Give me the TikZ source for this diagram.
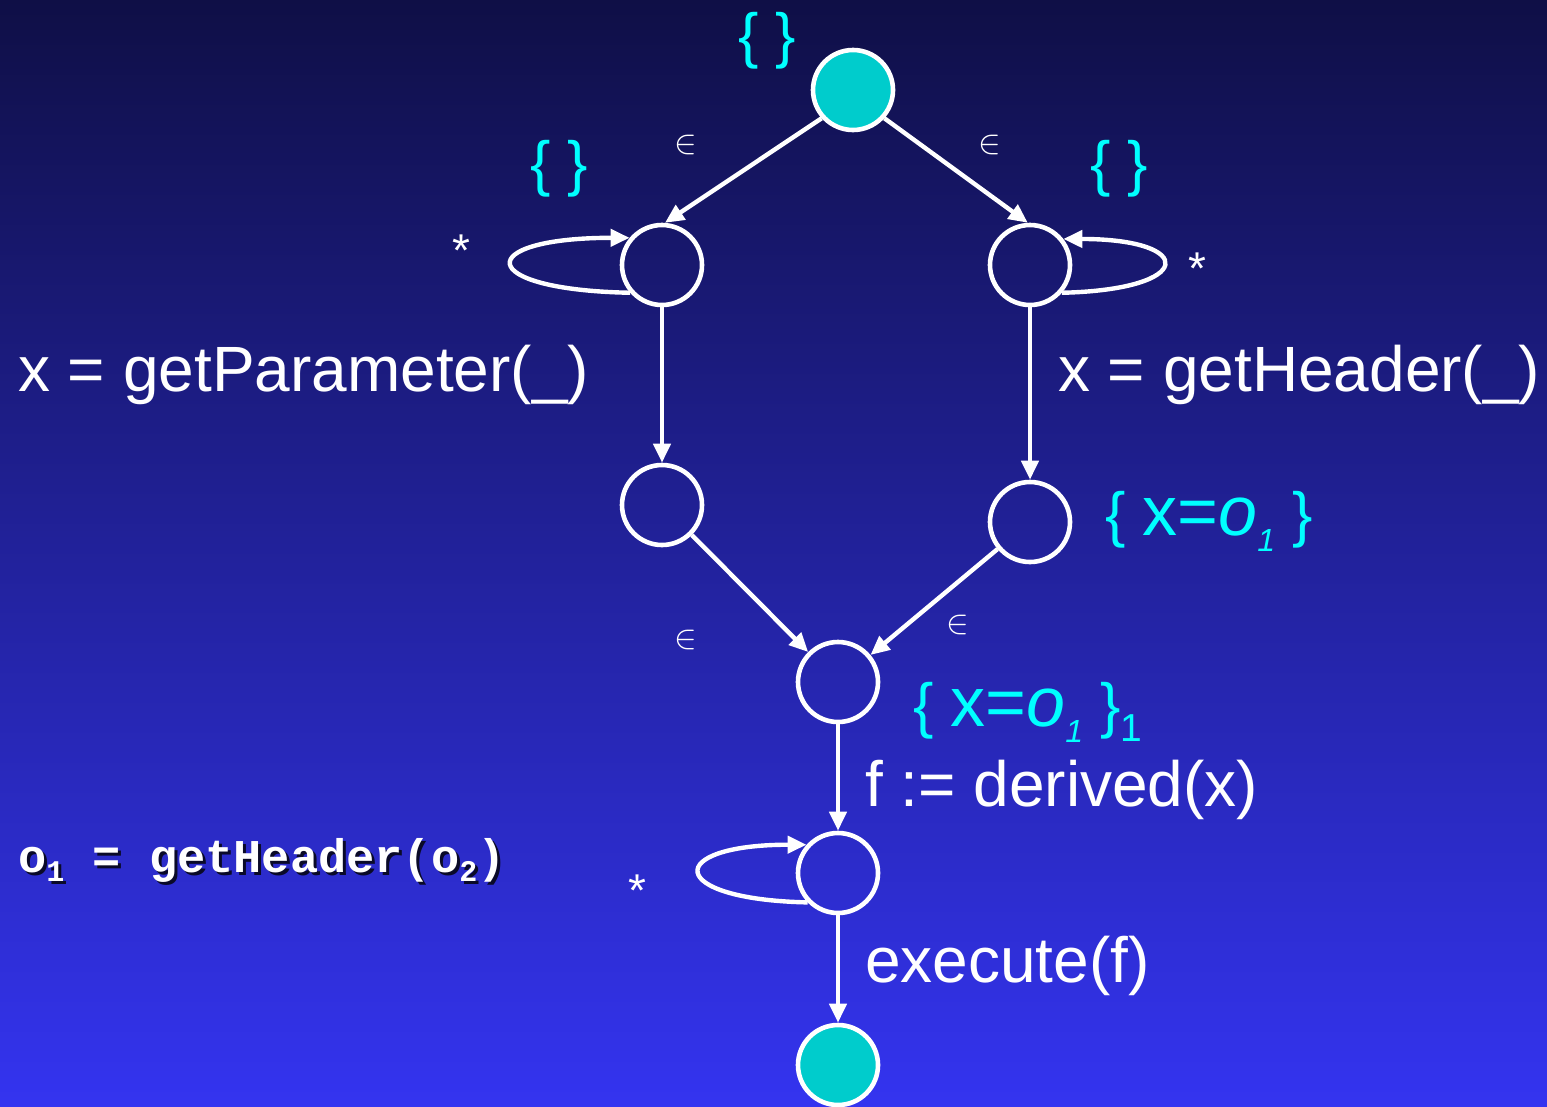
\documentclass[tikz,border=0pt]{standalone}
\usepackage{fontspec}
\usepackage{graphicx}
\setmainfont{Liberation Sans}
\setmonofont{Liberation Mono}
\usetikzlibrary{arrows.meta}
\definecolor{bgtop}{RGB}{15,15,70}
\definecolor{bgmid}{RGB}{38,38,185}
\definecolor{bgbot}{RGB}{52,52,240}
\definecolor{fillcyan}{RGB}{0,204,204}
\definecolor{labcyan}{RGB}{0,255,255}
\definecolor{shadowcol}{RGB}{10,10,40}
\newcommand{\lowsub}[3]{\raisebox{-#1pt}{\fontsize{#2}{#2}\selectfont #3}}
\newcommand{\bigx}[1]{{\fontsize{70}{70}\selectfont #1}}
\begin{document}
\begin{tikzpicture}[x=1pt,y=-1pt,
  state/.style={circle,draw=white,line width=4.6pt,minimum size=80pt,inner sep=0pt},
  startend/.style={state,fill=fillcyan},
  edge/.style={draw=white,line width=4.4pt,-{Triangle[length=19pt,width=17pt]}},
  lab/.style={text=white,font=\fontsize{64}{70}\selectfont,inner sep=0pt,anchor=west},
  set/.style={text=labcyan,font=\fontsize{61}{70}\selectfont,inner sep=0pt},
  eps/.style={text=white,inner sep=0pt},
  star/.style={text=white,font=\fontsize{46}{46}\selectfont,inner sep=0pt},
  code/.style={font=\fontsize{47}{50}\selectfont\ttfamily\bfseries,inner sep=0pt,anchor=west}
]
\shade[top color=bgtop,middle color=bgmid,bottom color=bgbot] (0,0) rectangle (1547,1106);
\useasboundingbox (0,0) rectangle (1547,1106);

% states
\node[startend] (s0) at (853,90) {};
\node[state] (l1) at (662,265) {};
\node[state] (r1) at (1030,265) {};
\node[state] (l2) at (662,505) {};
\node[state] (r2) at (1030,522) {};
\node[state] (m1) at (838,682) {};
\node[state] (m2) at (838,873) {};
\node[startend] (s1) at (838,1065) {};

% edges
\draw[edge] (s0.222) -- (l1.86);
\draw[edge] (s0.318) -- (r1.93);
\draw[edge] (l1) -- (l2);
\draw[edge] (r1) -- (r2);
\draw[edge] (l2) -- (m1);
\draw[edge] (r2) -- (m1);
\draw[edge] (m1) -- (m2);
\draw[edge] (m2) -- (s1);

% self loops
\draw[edge] (l1.221) .. controls +(-157,-3) and +(-157,0) .. (l1.140);
\draw[edge] (r1.319) .. controls +(134,-3) and +(134,0) .. (r1.38);
\draw[edge] (m2.224) .. controls +(-143,-3) and +(-143,0) .. (m2.138);

% sets
\node[set] (e0) at (767,41) {\{ \}};
\node[set] (e1) at (559,169) {\{ \}};
\node[set] (e2) at (1119,169) {\{ \}};
\node[set,anchor=west] (e3) at (1105,521) {\{ \bigx{x=\textit{o}}\textit{\lowsub{16}{32}{1}} \}};
\node[set,anchor=west] (e4) at (913,712) {\{ \bigx{x=\textit{o}}\textit{\lowsub{16}{32}{1}} \}\lowsub{15}{39}{1}};

% epsilon labels
\node[eps] (p1) at (686,145) {\scalebox{3.4}{$\in$}};
\node[eps] (p2) at (990,145) {\scalebox{3.4}{$\in$}};
\node[eps] (p3) at (686,640) {\scalebox{3.4}{$\in$}};
\node[eps] (p4) at (958,625) {\scalebox{3.4}{$\in$}};

% stars
\node[star] (k1) at (461,251) {*};
\node[star] (k2) at (1197,269) {*};
\node[star] (k3) at (637,891) {*};

% statement labels
\node[lab] (t1) at (18,375) {x = getParameter(\_)};
\node[lab] (t2) at (1058,375) {x = getHeader(\_)};
\node[lab] (t3) at (865,790) {f := derived(x)};
\node[lab] (t4) at (865,966) {execute(f)};

% code
\node[code,text=shadowcol] (c0) at (21,863) {o\lowsub{9}{30}{1} = getHeader(o\lowsub{9}{30}{2})};
\node[code,text=white] (c1) at (18,860) {o\lowsub{9}{30}{1} = getHeader(o\lowsub{9}{30}{2})};
\end{tikzpicture}
\end{document}
